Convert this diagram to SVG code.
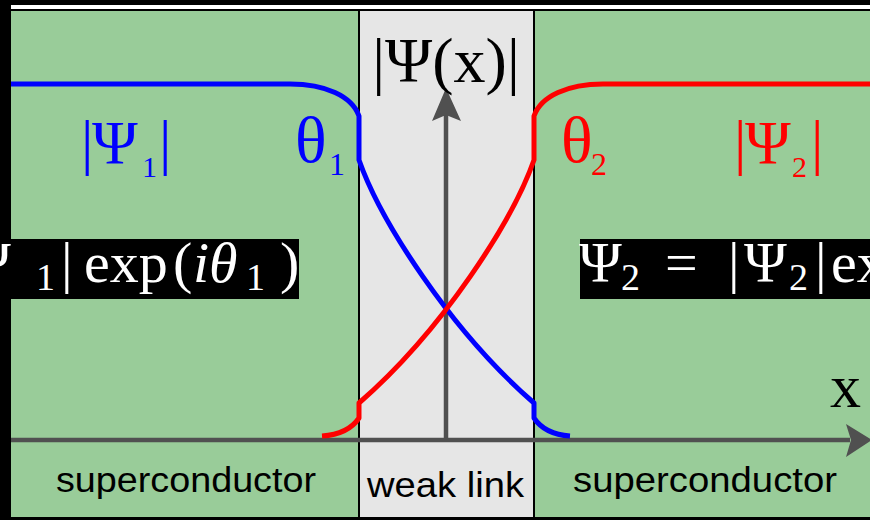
<svg xmlns="http://www.w3.org/2000/svg" width="870" height="520" viewBox="0 0 870 520">
<defs>
<style>
.serif{font-family:"Liberation Serif","Times New Roman",serif}
.sans{font-family:"Liberation Sans",Arial,sans-serif;font-size:35px;fill:#000}
.blue{fill:#0000ff}
.red{fill:#ff0000}
.wh{fill:#ffffff}
.curve{fill:none;stroke-width:5;stroke-linejoin:round}
.axis{stroke:#505050;stroke-width:4.5;fill:none}
.div{stroke:#000;stroke-width:2}
</style>
</defs>
<!-- frame -->
<rect x="0" y="0" width="870" height="520" fill="#000"/>
<rect x="11" y="5" width="859" height="4" fill="#fff"/>
<g id="left-sc"><rect x="11" y="11" width="348" height="506" fill="#99cc99"/>
<text class="sans" x="56" y="492" textLength="260" lengthAdjust="spacingAndGlyphs">superconductor</text></g>
<g id="weak-link"><rect x="359" y="11" width="175" height="506" fill="#e6e6e6"/>
<text class="sans" x="367" y="497" textLength="157" lengthAdjust="spacingAndGlyphs">weak link</text></g>
<g id="right-sc"><rect x="534" y="11" width="336" height="506" fill="#99cc99"/>
<text class="sans" x="573" y="492" textLength="264" lengthAdjust="spacingAndGlyphs">superconductor</text></g>
<line class="div" x1="359" y1="11" x2="359" y2="517"/>
<line class="div" x1="534" y1="11" x2="534" y2="517"/>
<!-- connectors / axes and curves -->
<g id="connectors">
<line class="axis" x1="11" y1="440" x2="850" y2="440"/>
<polygon points="872,440 846,424 851,440 846,457" fill="#505050"/>
<line class="axis" x1="446" y1="440" x2="446" y2="115"/>
<polygon points="446,88 432,121 446,115 461,121" fill="#505050"/>
<path class="curve" stroke="#0000ff" d="M11,84 H290 C325,84 352,96 359,116 V160 C380,220 450,330 534,403 V418 C542,430 555,435 570,436"/>
<path class="curve" stroke="#ff0000" d="M322,436 C337,435 351,430 359,418 V403 C443,330 513,220 534,160 V116 C541,96 568,84 603,84 H870"/>
</g>
<!-- labels -->
<g id="psi-x-label"><text class="serif" x="446" y="82" font-size="64" text-anchor="middle">|Ψ(x)|</text></g>
<g id="x-label"><text class="serif" x="830" y="407" font-size="62">x</text></g>
<g id="psi1-label">
<text class="serif blue" y="163" font-size="62"><tspan x="81">|</tspan><tspan x="92">Ψ</tspan></text>
<text class="serif blue" x="142" y="177" font-size="30">1</text>
<text class="serif blue" x="159" y="163" font-size="62">|</text>
</g>
<g id="theta1-label">
<text class="serif blue" x="295" y="162" font-size="66">θ</text>
<text class="serif blue" x="329" y="175" font-size="32">1</text>
</g>
<g id="theta2-label">
<text class="serif red" x="561" y="162" font-size="66">θ</text>
<text class="serif red" x="591" y="175" font-size="32">2</text>
</g>
<g id="psi2-label">
<text class="serif red" y="163" font-size="62"><tspan x="734">|</tspan><tspan x="745">Ψ</tspan></text>
<text class="serif red" x="792" y="177" font-size="30">2</text>
<text class="serif red" x="811" y="163" font-size="62">|</text>
</g>
<g id="eq1">
<rect x="0" y="239" width="299" height="60" fill="#000"/>
<text class="serif wh" x="-32" y="282" font-size="58">Ψ</text>
<text class="serif wh" x="36" y="290" font-size="38">1</text>
<text class="serif wh" y="282" font-size="58"><tspan x="61">|</tspan><tspan x="84">exp</tspan><tspan x="173">(</tspan><tspan x="193" font-style="italic">iθ</tspan></text>
<text class="serif wh" x="246" y="290" font-size="38">1</text>
<text class="serif wh" x="280" y="282" font-size="58">)</text>
</g>
<g id="eq2">
<rect x="580" y="239" width="290" height="60" fill="#000"/>
<text class="serif wh" x="579" y="282" font-size="58">Ψ</text>
<text class="serif wh" x="621" y="290" font-size="38">2</text>
<text class="serif wh" y="282" font-size="58"><tspan x="665">=</tspan><tspan x="728">|</tspan><tspan x="744">Ψ</tspan></text>
<text class="serif wh" x="789" y="290" font-size="38">2</text>
<text class="serif wh" y="282" font-size="58"><tspan x="815">|</tspan><tspan x="831">ex</tspan></text>
</g>
</svg>
